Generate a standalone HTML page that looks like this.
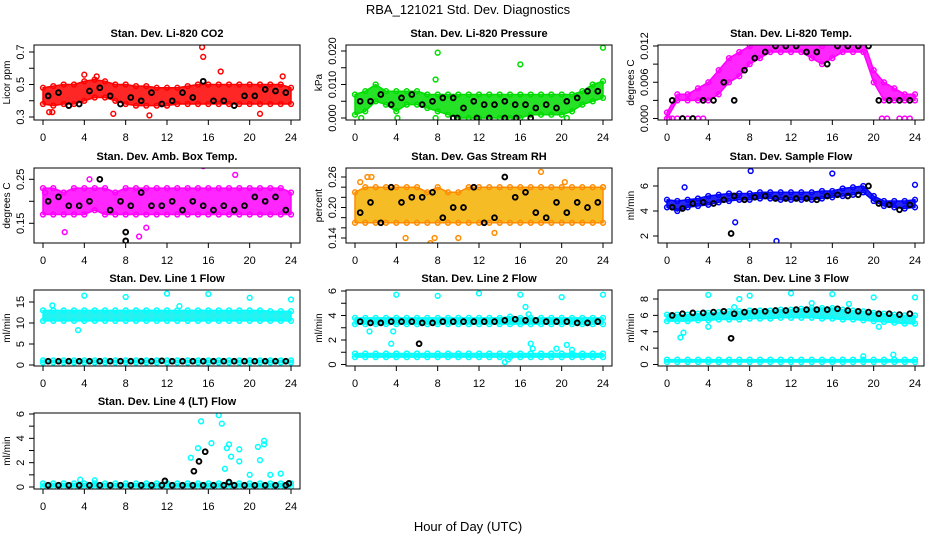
<!DOCTYPE html>
<html><head><meta charset="utf-8"><style>
body{margin:0;background:#fff}
svg{display:block;font-family:"Liberation Sans",Arial,sans-serif}
</style></head><body>
<svg id="chart" width="936" height="540" viewBox="0 0 936 540">
<text x="468" y="14" font-size="13" text-anchor="middle">RBA_121021  Std. Dev. Diagnostics</text>
<text x="468" y="531" font-size="13" text-anchor="middle">Hour of Day (UTC)</text>
</svg>
<script>
const hours=[0,1,2,3,4,5,6,7,8,9,10,11,12,13,14,15,16,17,18,19,20,21,22,23,24];
const halfHours=[0.5,1.5,2.5,3.5,4.5,5.5,6.5,7.5,8.5,9.5,10.5,11.5,12.5,13.5,14.5,15.5,16.5,17.5,18.5,19.5,20.5,21.5,22.5,23.5];
const xTicks=[0,4,8,12,16,20,24];

// CO2
const co2Lo=[0.38,0.37,0.38,0.38,0.40,0.42,0.42,0.40,0.38,0.37,0.37,0.37,0.37,0.38,0.38,0.38,0.38,0.38,0.38,0.38,0.38,0.38,0.38,0.38,0.38];
const co2Hi=[0.48,0.49,0.50,0.50,0.52,0.53,0.52,0.50,0.50,0.49,0.49,0.48,0.48,0.48,0.49,0.50,0.50,0.50,0.50,0.50,0.50,0.50,0.50,0.50,0.48];
const co2Black=[0.43,0.45,0.37,0.38,0.46,0.48,0.43,0.38,0.42,0.40,0.45,0.38,0.40,0.45,0.42,0.52,0.40,0.40,0.37,0.43,0.43,0.47,0.46,0.45];
const co2OutX=[0.6,0.9,4,5.2,6.8,10.3,15.4,15.5,17.2,21,23.2];
const co2OutY=[0.33,0.33,0.56,0.55,0.32,0.31,0.73,0.67,0.58,0.32,0.55];
// Pressure
const prLo=[0.001,0.002,0.005,0.004,0.002,0.004,0.004,0.003,0.002,0.001,0,0,0,0,0,0,0,0.001,0.001,0.001,0.001,0.002,0.004,0.005,0.006];
const prHi=[0.007,0.008,0.010,0.008,0.008,0.008,0.008,0.007,0.007,0.007,0.007,0.007,0.007,0.007,0.007,0.007,0.007,0.007,0.007,0.007,0.007,0.007,0.008,0.010,0.011];
const prBlack=[0.005,0.005,0.007,0.004,0.006,0.007,0.004,0.005,0.006,0.006,0.003,0.005,0.004,0.004,0.005,0.004,0.004,0.003,0.004,0.003,0.005,0.006,0.008,0.008];
const prOutX=[8,7.8,16,24,4.1,0.6,7.8,20.5];
const prOutY=[0.0195,0.0115,0.016,0.021,0,0,0,0];
const prBOutX=[9.5,9.9,11.8,13,14.5,15.6,17];
const prBOutY=[0,0,0,0,0,0,0];
// Li-820 temp
const tLo=[0,0.003,0.003,0.003,0.003,0.004,0.006,0.007,0.009,0.010,0.011,0.011,0.011,0.011,0.010,0.009,0.010,0.011,0.011,0.011,0.006,0.003,0.003,0.003,0.003];
const tHi=[0.001,0.004,0.004,0.005,0.006,0.008,0.010,0.011,0.012,0.013,0.013,0.013,0.013,0.013,0.013,0.012,0.013,0.013,0.013,0.013,0.008,0.006,0.005,0.004,0.004];
const tBlack=[0.003,0,0,0.003,0.003,0.006,0.003,0.008,0.010,0.011,0.012,0.012,0.012,0.011,0.011,0.009,0.012,0.012,0.012,0.012,0.003,0.003,0.003,0.003];
const tOutX=[0.2,0.5,1,1.5,2,2.5,3,3.5,20.8,21.3,22.5,23,23.5];
const tOutY=[0,0,0,0,0,0,0,0,0,0,0,0,0];
// Amb box temp
const abLo=[0.17,0.17,0.17,0.17,0.17,0.18,0.17,0.17,0.17,0.17,0.17,0.17,0.17,0.17,0.17,0.17,0.17,0.17,0.17,0.17,0.17,0.17,0.17,0.17,0.17];
const abHi=[0.23,0.23,0.22,0.23,0.23,0.23,0.23,0.22,0.23,0.23,0.23,0.23,0.23,0.23,0.23,0.23,0.23,0.23,0.23,0.23,0.23,0.23,0.23,0.23,0.22];
const abBlack=[0.20,0.21,0.19,0.19,0.20,0.25,0.18,0.20,0.19,0.22,0.19,0.19,0.20,0.18,0.20,0.19,0.18,0.19,0.18,0.19,0.21,0.20,0.21,0.18];
const abOutX=[4.5,15.5,18.6,2.1,9.3,0.2,10];
const abOutY=[0.25,0.28,0.26,0.13,0.12,0.22,0.14];
const abBOutX=[8,8];
const abBOutY=[0.13,0.11];
// RH
const rhLo=[0.17,0.17,0.17,0.17,0.17,0.17,0.17,0.17,0.17,0.17,0.17,0.17,0.17,0.17,0.17,0.17,0.17,0.17,0.17,0.17,0.17,0.17,0.17,0.17,0.17];
const rhHi=[0.23,0.24,0.24,0.24,0.24,0.24,0.24,0.23,0.24,0.23,0.23,0.24,0.24,0.24,0.24,0.24,0.24,0.24,0.24,0.24,0.24,0.24,0.24,0.24,0.24];
const rhBlack=[0.19,0.21,0.17,0.24,0.21,0.22,0.22,0.23,0.18,0.20,0.20,0.24,0.17,0.18,0.26,0.22,0.23,0.19,0.18,0.21,0.19,0.21,0.20,0.21];
const rhOutX=[0.5,1.2,1.6,7.3,7.7,18,4.9,10,13.5,20.3,24];
const rhOutY=[0.25,0.26,0.26,0.13,0.14,0.27,0.14,0.14,0.15,0.25,0.24];
// Sample flow
const sfLo=[4.3,4.0,4.3,4.4,4.5,4.7,4.8,4.9,4.9,5.0,5.0,4.9,4.9,4.9,4.9,5.0,5.1,5.2,5.3,5.5,4.8,4.4,4.3,4.2,4.3];
const sfHi=[4.9,4.8,4.9,5.0,5.2,5.3,5.4,5.4,5.4,5.5,5.5,5.5,5.5,5.5,5.5,5.6,5.6,5.8,5.9,6.0,5.2,4.8,4.8,4.8,4.9];
const sfBlack=[4.3,4.2,4.6,4.7,4.6,4.9,5.2,4.9,5.1,5.2,5.0,5.0,5.0,5.0,4.9,5.2,5.3,5.2,5.3,6.0,4.6,4.5,4.1,4.5];
const sfOutX=[1.7,6.6,8.1,10.6,16,24];
const sfOutY=[5.9,3.1,7.2,1.6,7.0,6.1];
const sfBOutX=[6.2];
const sfBOutY=[2.2];
// Line 1
const l1Lo=[10.5,10.5,10.5,10.5,10.5,10.5,10.5,10.5,10.5,10.5,10.5,10.5,10.5,10.5,10.5,10.5,10.5,10.5,10.5,10.5,10.5,10.5,10.5,10.5,10.5];
const l1Hi=[13,13,13,13,13,13,13,13,13,13,13,13,13,13,13,13,13,13,13,13,13,13,12.8,12.8,12.8];
const l1Lo2=[0.6,0.6,0.6,0.6,0.6,0.6,0.6,0.6,0.6,0.6,0.6,0.6,0.6,0.6,0.6,0.6,0.6,0.6,0.6,0.6,0.6,0.6,0.6,0.6,0.6];
const l1Hi2=[1.1,1.1,1.1,1.1,1.1,1.1,1.1,1.1,1.1,1.1,1.1,1.1,1.1,1.1,1.1,1.1,1.1,1.1,1.1,1.1,1.1,1.1,1.1,1.1,1.1];
const l1Black=[0.9,0.9,0.9,0.9,0.9,0.9,0.9,0.9,0.9,0.9,0.9,1.0,0.9,0.9,0.9,0.9,0.9,0.9,0.9,0.9,0.9,0.9,0.9,0.9];
const l1OutX=[0.9,3.4,4,8,12,16,20,24,13.2];
const l1OutY=[14.2,8.3,16.5,16.2,17,16.9,16,15.6,14];
// Line 2
const l2Lo=[3.3,3.3,3.3,3.3,3.3,3.3,3.3,3.3,3.3,3.3,3.3,3.3,3.3,3.3,3.3,3.3,3.3,3.3,3.3,3.3,3.3,3.3,3.3,3.3,3.3];
const l2Hi=[3.8,3.8,3.8,3.8,3.8,3.8,3.8,3.8,3.8,3.8,3.8,3.8,3.8,3.8,3.8,3.9,3.8,3.8,3.8,3.8,3.8,3.8,3.8,3.8,3.8];
const l2Lo2=[0.6,0.6,0.6,0.6,0.6,0.6,0.6,0.6,0.6,0.6,0.6,0.6,0.6,0.6,0.6,0.6,0.6,0.6,0.6,0.6,0.6,0.6,0.6,0.6,0.6];
const l2Hi2=[0.9,0.9,0.9,0.9,0.9,0.9,0.9,0.9,0.9,0.9,0.9,0.9,0.9,0.9,0.9,0.9,0.9,0.9,0.9,0.9,0.9,0.9,0.9,0.9,0.9];
const l2Black=[3.5,3.4,3.4,3.5,3.5,3.5,3.4,3.4,3.5,3.5,3.5,3.5,3.5,3.5,3.6,3.7,3.6,3.6,3.5,3.5,3.5,3.4,3.4,3.5];
const l2OutX=[4,8,12,16,20,24,1.4,3.5,3.7,14.5,14.8,17,17.2,16.5,16.8,19.5,20.5,21];
const l2OutY=[5.7,5.6,5.8,5.7,5.5,5.7,2.7,1.7,2.7,0.2,0.4,1.7,1.3,4.7,4.1,1.3,1.6,1.2];
const l2BOutX=[6.2];
const l2BOutY=[1.7];
// Line 3
const l3Lo=[5.3,5.3,5.3,5.4,5.4,5.5,5.5,5.5,5.6,5.6,5.6,5.7,5.7,5.7,5.7,5.6,5.6,5.5,5.5,5.4,5.3,5.2,5.1,5.0,5.0];
const l3Hi=[6.1,6.1,6.1,6.2,6.3,6.4,6.5,6.5,6.6,6.6,6.6,6.7,6.7,6.8,6.9,6.9,6.9,6.7,6.6,6.5,6.3,6.2,6.1,6.0,6.0];
const l3Lo2=[0.3,0.3,0.3,0.3,0.3,0.3,0.3,0.3,0.3,0.3,0.3,0.3,0.3,0.3,0.3,0.3,0.3,0.3,0.3,0.3,0.3,0.3,0.3,0.3,0.3];
const l3Hi2=[0.6,0.6,0.6,0.6,0.6,0.6,0.6,0.6,0.6,0.6,0.6,0.6,0.6,0.6,0.6,0.6,0.6,0.6,0.6,0.6,0.6,0.6,0.6,0.6,0.6];
const l3Black=[6.0,6.2,6.3,6.3,6.4,6.5,6.2,6.4,6.5,6.5,6.6,6.6,6.7,6.7,6.7,6.7,6.8,6.6,6.5,6.4,6.2,6.2,6.1,6.2];
const l3OutX=[4,8,12,16,20,24,1.3,1.6,6.5,7,4,14,19,21.9,17.6,20.5];
const l3OutY=[8.5,8.4,8.7,8.6,8.2,8.2,3.3,3.9,7,8,4.6,7.5,1.0,1.2,7.4,4.6];
const l3BOutX=[6.2];
const l3BOutY=[3.2];
// Line 4
const l4Lo=[0,0,0,0,0,0,0,0,0,0,0,0,0,0,0,0,0,0,0,0,0,0,0,0,0];
const l4Hi=[0.3,0.3,0.3,0.3,0.3,0.3,0.3,0.3,0.3,0.3,0.3,0.3,0.3,0.3,0.3,0.3,0.3,0.3,0.3,0.3,0.3,0.3,0.3,0.3,0.3];
const l4Black=[0.15,0.15,0.15,0.15,0.15,0.15,0.15,0.15,0.15,0.15,0.15,0.15,0.15,0.15,0.15,0.15,0.15,0.15,0.15,0.15,0.15,0.15,0.15,0.15];
const l4OutX=[15.3,17,17.3,18,17.8,16.3,15,14.3,18.2,19,19,20.8,21,21.4,21.4,23,20,22,17.6,3.6,5];
const l4OutY=[5.4,5.9,5.2,3.5,3.2,3.6,3.2,2.4,2.5,3.1,2.1,3.3,2.2,3.8,3.5,1.1,1.0,1.0,1.5,0.6,0.55];
const l4BOutX=[14.6,15.1,15.7,11.8,18,23.8];
const l4BOutY=[1.3,2.1,2.9,0.5,0.4,0.3];

const NS='http://www.w3.org/2000/svg';
const svg=document.getElementById('chart');
function mk(tag,attrs,parent){const e=document.createElementNS(NS,tag);for(const k in attrs)e.setAttribute(k,attrs[k]);(parent||svg).appendChild(e);return e;}

const panels=[
 {id:'co2',title:'Stan. Dev. Li-820 CO2',ylab:'Licor ppm',col:0,row:0,y0:0.3,p0:117,y1:0.7,p1:52,ticks:[0.3,0.4,0.5,0.6,0.7],labels:['0.3','','0.5','','0.7'],color:'#ff0000',fill:'#ff0000',bands:[[co2Lo,co2Hi]],black:co2Black,ox:co2OutX,oy:co2OutY},
 {id:'pressure',title:'Stan. Dev. Li-820 Pressure',ylab:'kPa',col:1,row:0,y0:0,p0:118,y1:0.02,p1:51,ticks:[0,0.005,0.01,0.015,0.02],labels:['0.000','','0.010','','0.020'],color:'#00dd00',fill:'#00dd00',bands:[[prLo,prHi]],black:prBlack,ox:prOutX,oy:prOutY,bx:prBOutX,by:prBOutY},
 {id:'temp',title:'Stan. Dev. Li-820 Temp.',ylab:'degrees C',col:2,row:0,y0:0,p0:118.5,y1:0.012,p1:46,ticks:[0,0.003,0.006,0.009,0.012],labels:['0.000','','0.006','','0.012'],color:'#ff00ff',fill:'#ff00ff',bands:[[tLo,tHi]],black:tBlack,ox:tOutX,oy:tOutY},
 {id:'ambtemp',title:'Stan. Dev. Amb. Box Temp.',ylab:'degrees C',col:0,row:1,y0:0.15,p0:223.3,y1:0.25,p1:179.3,ticks:[0.15,0.2,0.25],labels:['0.15','','0.25'],color:'#ff00ff',fill:'#ff00ff',bands:[[abLo,abHi]],black:abBlack,ox:abOutX,oy:abOutY,bx:abBOutX,by:abBOutY},
 {id:'rh',title:'Stan. Dev. Gas Stream RH',ylab:'percent',col:1,row:1,y0:0.14,p0:238,y1:0.26,p1:177,ticks:[0.14,0.16,0.18,0.2,0.22,0.24,0.26],labels:['0.14','','','0.20','','','0.26'],color:'#ff8c00',fill:'#f5b000',bands:[[rhLo,rhHi]],black:rhBlack,ox:rhOutX,oy:rhOutY},
 {id:'sampleflow',title:'Stan. Dev. Sample Flow',ylab:'ml/min',col:2,row:1,y0:2,p0:236,y1:6,p1:186,ticks:[2,4,6],labels:['2','4','6'],color:'#0000ff',fill:'#0000ee',bands:[[sfLo,sfHi]],black:sfBlack,ox:sfOutX,oy:sfOutY,bx:sfBOutX,by:sfBOutY},
 {id:'line1',title:'Stan. Dev. Line 1 Flow',ylab:'ml/min',col:0,row:2,y0:0,p0:365,y1:15,p1:302,ticks:[0,5,10,15],labels:['0','5','10','15'],color:'#00ffff',fill:'#00f0f0',bands:[[l1Lo,l1Hi],[l1Lo2,l1Hi2]],black:l1Black,ox:l1OutX,oy:l1OutY},
 {id:'line2',title:'Stan. Dev. Line 2 Flow',ylab:'ml/min',col:1,row:2,y0:0,p0:364.5,y1:6,p1:291,ticks:[0,1,2,3,4,5,6],labels:['0','','2','','4','','6'],color:'#00ffff',fill:'#00f0f0',bands:[[l2Lo,l2Hi],[l2Lo2,l2Hi2]],black:l2Black,ox:l2OutX,oy:l2OutY,bx:l2BOutX,by:l2BOutY},
 {id:'line3',title:'Stan. Dev. Line 3 Flow',ylab:'ml/min',col:2,row:2,y0:0,p0:364.5,y1:8,p1:299,ticks:[0,2,4,6,8],labels:['0','2','4','6','8'],color:'#00ffff',fill:'#00f0f0',bands:[[l3Lo,l3Hi],[l3Lo2,l3Hi2]],black:l3Black,ox:l3OutX,oy:l3OutY,bx:l3BOutX,by:l3BOutY},
 {id:'line4',title:'Stan. Dev. Line 4 (LT) Flow',ylab:'ml/min',col:0,row:3,y0:0,p0:487,y1:6,p1:414,ticks:[0,1,2,3,4,5,6],labels:['0','','2','','4','','6'],color:'#00ffff',fill:'#00f0f0',bands:[[l4Lo,l4Hi]],black:l4Black,ox:l4OutX,oy:l4OutY,bx:l4BOutX,by:l4BOutY}
];
const colX0=[43,355,667];
const rowTop=[45,168,290,413];
const rowBot=[120,243,366,489];

function pt(g,x,y,c,name,w){
  const e=mk('circle',{cx:x.toFixed(1),cy:y.toFixed(1),r:2.4,fill:'none',stroke:c,'stroke-width':w||1.5},g);
  
  
}

panels.forEach(p=>{
  const x0=colX0[p.col], top=rowTop[p.row], bot=rowBot[p.row];
  const L=x0-9, R=x0+257;
  const xs=h=>x0+h*248/24;
  const ys=v=>p.p0+(v-p.y0)*(p.p1-p.p0)/(p.y1-p.y0);
  const g=mk('g',{});
  
  
  const cp=mk('clipPath',{id:'cp-'+p.id},g);
  mk('rect',{x:L,y:top,width:R-L,height:bot-top},cp);
  const t=mk('text',{x:(L+R)/2,y:top-8,'font-size':11,'font-weight':'bold','text-anchor':'middle'},g);
  t.textContent=p.title;
  
  
  const pg=mk('g',{'clip-path':'url(#cp-'+p.id+')'},g);
  p.bands.forEach((b,bi)=>{
    const lo=b[0],hi=b[1];
    let d='M'+hours.map((h,i)=>xs(h).toFixed(1)+','+ys(hi[i]).toFixed(1)).join('L');
    d+='L'+hours.slice().reverse().map((h,j)=>{const i=hours.length-1-j;return xs(h).toFixed(1)+','+ys(lo[i]).toFixed(1);}).join('L')+'Z';
    const band=mk('path',{d:d,fill:p.fill,'fill-opacity':0.85,stroke:p.color,'stroke-width':1.5,'stroke-linejoin':'round'},pg);
    
    
    hours.forEach((h,i)=>{pt(pg,xs(h),ys(hi[i]),p.color,'point-'+p.id);pt(pg,xs(h),ys(lo[i]),p.color,'point-'+p.id);});
  });
  p.ox.forEach((x,i)=>pt(pg,xs(x),ys(p.oy[i]),p.color,'outlier-'+p.id));
  halfHours.forEach((h,i)=>pt(pg,xs(h),ys(p.black[i]),'#000','hourly-point-'+p.id,1.9));
  if(p.bx)p.bx.forEach((x,i)=>pt(pg,xs(x),ys(p.by[i]),'#000','hourly-outlier-'+p.id,1.9));
  const box=mk('rect',{x:L,y:top,width:R-L,height:bot-top,fill:'none',stroke:'#000','stroke-width':1},g);
  
  
  const xa=mk('g',{},g);
  
  
  xTicks.forEach(v=>{
    mk('line',{x1:xs(v),x2:xs(v),y1:bot,y2:bot+5,stroke:'#000'},xa);
    const tl=mk('text',{x:xs(v),y:bot+21,'font-size':11,'text-anchor':'middle'},xa);
    tl.textContent=v;
  });
  const ya=mk('g',{},g);
  
  
  p.ticks.forEach((v,i)=>{
    const y=ys(v);
    mk('line',{x1:L-5,x2:L,y1:y,y2:y,stroke:'#000'},ya);
    if(p.labels[i]){
      const tl=mk('text',{x:L-10,y:y,'font-size':11,'text-anchor':'middle',transform:'rotate(-90 '+(L-10)+' '+y+')'},ya);
      tl.textContent=p.labels[i];
    }
  });
  const yt=mk('text',{x:L-24,y:(top+bot)/2,'font-size':10,'text-anchor':'middle',transform:'rotate(-90 '+(L-24)+' '+((top+bot)/2)+')'},g);
  yt.textContent=p.ylab;
  
  
});
</script>
</body></html>
